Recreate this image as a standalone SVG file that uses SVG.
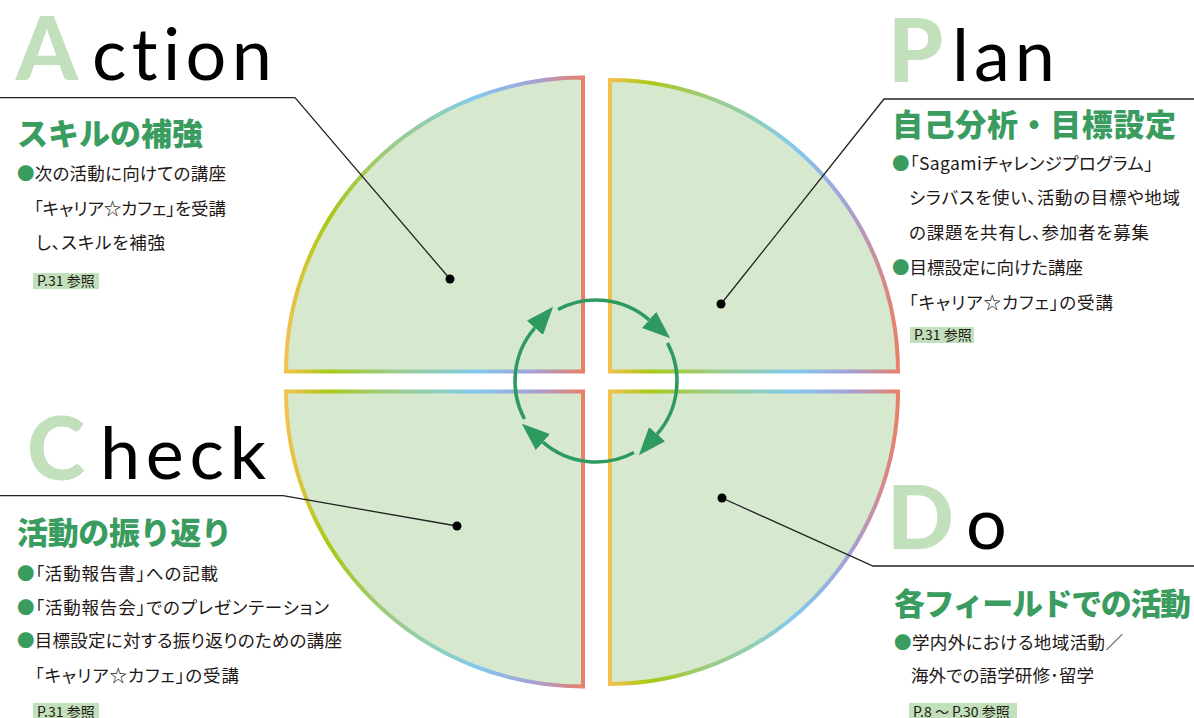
<svg xmlns="http://www.w3.org/2000/svg" width="1194" height="718" viewBox="0 0 1194 718">
<style>
.q{fill:#d6e9cf;stroke:url(#rim);stroke-width:4}
.big{font-family:Lato,"Open Sans","Liberation Sans",sans-serif;font-weight:900;font-size:88px;fill:#c2e0bc}
.word{font-family:Lato,"Open Sans","Liberation Sans",sans-serif;font-weight:400;font-size:72px;fill:#000;font-variant-ligatures:none;font-feature-settings:"liga" 0,"dlig" 0}
.h{font-family:"Noto Sans CJK JP",sans-serif;font-weight:900;font-size:31px;fill:#3b9c5f}
.t{font-family:"Noto Sans CJK JP",sans-serif;font-weight:400;font-size:17.5px;fill:#231815;font-feature-settings:"palt"}
.b{fill:#3b9c5f}
.tag{fill:#c2e0bc}
.tt{font-family:"Noto Sans CJK JP",sans-serif;font-size:14px;fill:#231815;font-feature-settings:"palt"}
.lead{fill:none;stroke:#222;stroke-width:1.3}
.cyc{fill:none;stroke:#2f9a5f;stroke-width:3.5;marker-end:url(#ah)}
</style>
<defs>
<linearGradient id="rim" x1="0" y1="0" x2="1" y2="0">
<stop offset="0" stop-color="#f3c150"/>
<stop offset="0.14" stop-color="#a9c915"/>
<stop offset="0.35" stop-color="#9dcc85"/>
<stop offset="0.5" stop-color="#8fcfb8"/>
<stop offset="0.64" stop-color="#83c9ef"/>
<stop offset="0.84" stop-color="#a79fd2"/>
<stop offset="1" stop-color="#e8806a"/>
</linearGradient>
<marker id="ah" markerUnits="userSpaceOnUse" markerWidth="30" markerHeight="24" viewBox="0 -11 28 22" refX="0" refY="0" orient="auto">
<path d="M0,-10 L26,0 L0,10 Z" fill="#2f9a5f"/>
</marker>
</defs>

<g id="quadrant-action"><path class="q" d="M583,371.5 L286,371.5 A297 294 0 0 1 583,77.5 Z"/></g>
<g id="quadrant-plan"><path class="q" d="M610,371.5 L610,80 A288 291.5 0 0 1 898,371.5 Z"/></g>
<g id="quadrant-check"><path class="q" d="M583,391.5 L286,391.5 A297 295 0 0 0 583,686.5 Z"/></g>
<g id="quadrant-do"><path class="q" d="M610,391.5 L898,391.5 A288 292.5 0 0 1 610,684 Z"/></g>

<g id="cycle">
<path class="cyc" d="M524.48,419.03 A81 81 0 0 1 534.87,327.85"/>
<path class="cyc" d="M557.97,309.48 A81 81 0 0 1 649.14,319.87"/>
<path class="cyc" d="M667.52,342.97 A81 81 0 0 1 657.13,434.14"/>
<path class="cyc" d="M634.03,452.52 A81 81 0 0 1 542.86,442.13"/>
</g>

<g id="connectors">
<path class="lead" d="M0,97.7 L295,97.7 L450,279"/>
<path class="lead" d="M1194,99 L884,99 L721,304"/>
<path class="lead" d="M0,495.7 L283,495.7 L457,526"/>
<path class="lead" d="M722,498 L873,566 L1194,566"/>
<circle cx="450" cy="279" r="4.5" fill="#000"/>
<circle cx="721" cy="304" r="4.5" fill="#000"/>
<circle cx="457" cy="526" r="4.5" fill="#000"/>
<circle cx="722" cy="498" r="4.5" fill="#000"/>
</g>

<g id="action">
<text class="big" x="16" y="80">A</text>
<text class="word" x="92" y="80" textLength="180" lengthAdjust="spacing">ction</text>
<text class="h" x="17" y="145" textLength="186">スキルの補強</text>
<text class="t" x="17" y="180" textLength="209"><tspan class="b">●</tspan>次の活動に向けての講座</text>
<text class="t" x="34" y="215" textLength="192">「キャリア☆カフェ」を受講</text>
<text class="t" x="36" y="249" textLength="129">し、スキルを補強</text>
<rect class="tag" x="33" y="273" width="66" height="16"/>
<text class="tt" x="37" y="286">P.31 参照</text>
</g>

<g id="plan">
<text class="big" x="888" y="82">P</text>
<text class="word" x="952" y="81" textLength="103" lengthAdjust="spacing">lan</text>
<text class="h" x="892" y="136" textLength="284">自己分析・目標設定</text>
<text class="t" x="892" y="170" textLength="261"><tspan class="b">●</tspan>「Sagamiチャレンジプログラム」</text>
<text class="t" x="909" y="204" textLength="271">シラバスを使い、活動の目標や地域</text>
<text class="t" x="909" y="239" textLength="240">の課題を共有し、参加者を募集</text>
<text class="t" x="892" y="274" textLength="191"><tspan class="b">●</tspan>目標設定に向けた講座</text>
<text class="t" x="909" y="309" textLength="204">「キャリア☆カフェ」の受講</text>
<rect class="tag" x="910" y="327" width="64" height="16"/>
<text class="tt" x="914" y="340">P.31 参照</text>
</g>

<g id="check">
<text class="big" x="27" y="480">C</text>
<text class="word" x="100" y="479" textLength="166" lengthAdjust="spacing">heck</text>
<text class="h" x="17" y="544" textLength="215">活動の振り返り</text>
<text class="t" x="17" y="580" textLength="201"><tspan class="b">●</tspan>「活動報告書」への記載</text>
<text class="t" x="17" y="614" textLength="312"><tspan class="b">●</tspan>「活動報告会」でのプレゼンテーション</text>
<text class="t" x="17" y="647" textLength="325"><tspan class="b">●</tspan>目標設定に対する振り返りのための講座</text>
<text class="t" x="35" y="682" textLength="204">「キャリア☆カフェ」の受講</text>
<rect class="tag" x="33" y="703" width="66" height="16"/>
<text class="tt" x="37" y="717">P.31 参照</text>
</g>

<g id="do">
<text class="big" x="887" y="549">D</text>
<text class="word" x="966" y="549">o</text>
<text class="h" x="894" y="615" textLength="297">各フィールドでの活動</text>
<text class="t" x="894" y="649" textLength="229"><tspan class="b">●</tspan>学内外における地域活動／</text>
<text class="t" x="911" y="682" textLength="183">海外での語学研修･留学</text>
<rect class="tag" x="909" y="703" width="108" height="16"/>
<text class="tt" x="913" y="717">P.8 ～ P.30 参照</text>
</g>
</svg>
